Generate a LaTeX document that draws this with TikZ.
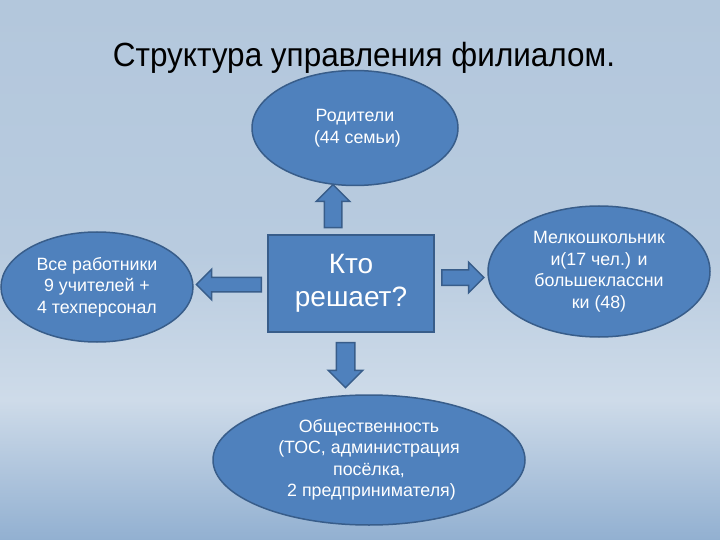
\documentclass[tikz,border=0pt]{standalone}
\usepackage{fontspec}
\setmainfont{Liberation Sans}
\newfontfamily\titlefont[FakeStretch=0.94]{Liberation Sans}
\usepackage{xcolor}
\usetikzlibrary{arrows.meta,positioning,calc,shapes.geometric,shapes.arrows}
\definecolor{boxblue}{HTML}{4F81BD}
\definecolor{boxline}{HTML}{385D8A}
\definecolor{bgtop}{HTML}{B3C7DC}
\definecolor{bgupper}{HTML}{B8CBDF}
\definecolor{bgmid}{HTML}{CEDBE9}
\definecolor{bgbot}{HTML}{92B0D1}

\begin{document}
\begin{tikzpicture}[>=Stealth, x=1pt, y=-1pt,
    oval/.style={ellipse, draw=boxline, line width=1.5pt, fill=boxblue, text=white,
        inner sep=0pt, align=center, font=\fontsize{17.8}{21.5}\selectfont},
    blockarrow/.style={single arrow, draw=boxline, line width=1.5pt, fill=boxblue,
        inner xsep=0pt, single arrow head indent=0pt}]
        \useasboundingbox (0,0) rectangle (720,540);
        % Background
        \shade[top color=bgtop, bottom color=bgupper] (0,0) rectangle (720,250);
        \shade[top color=bgupper, bottom color=bgmid] (0,250) rectangle (720,400);
        \shade[top color=bgmid, bottom color=bgbot] (0,400) rectangle (720,540);

        % Title
        \node[font=\titlefont\fontsize{33.5}{40}\selectfont, anchor=base] (title) at (364,67)
            {Структура управления филиалом.};

        % Central box
        \node[draw=boxline, line width=1.5pt, fill=boxblue, text=white, minimum width=166pt,
            minimum height=97pt, align=center, font=\fontsize{28}{33}\selectfont] (who) at (351,283.5)
            {Кто\\решает?};

        % Groups around it
        \node[oval, minimum width=206pt, minimum height=115pt] (parents) at (355,128)
            {Родители\\\ (44 семьи)};
        \node[oval, minimum width=192pt, minimum height=110pt] (staff) at (97,287)
            {Все работники\\9 учителей +\\4 техперсонал};
        \node[oval, minimum width=222pt, minimum height=131pt] (pupils) at (599,271.5)
            {Мелкошкольник\\и(17 чел.) и\\большеклассни\\ки (48)};
        \node[oval, minimum width=312pt, minimum height=130pt] (public) at (369,460)
            {Общественность\\(ТОС, администрация\\посёлка,\\\ 2 предпринимателя)};

        % Block arrows
        \node[blockarrow, rotate=90, minimum height=43pt, inner ysep=8pt,
            single arrow head extend=8pt] (toparents) at (333,210.5) {};
        \node[blockarrow, rotate=270, minimum height=45pt, inner ysep=8.5pt,
            single arrow head extend=8pt] (topublic) at (345.5,360.5) {};
        \node[blockarrow, rotate=180, minimum height=65pt, inner ysep=6.5pt,
            single arrow head extend=8pt] (tostaff) at (232.5,284.5) {};
        \node[blockarrow, minimum height=42pt, inner ysep=7pt,
            single arrow head extend=7.5pt] (topupils) at (459,277.5) {};
    \end{tikzpicture}
\end{document}
